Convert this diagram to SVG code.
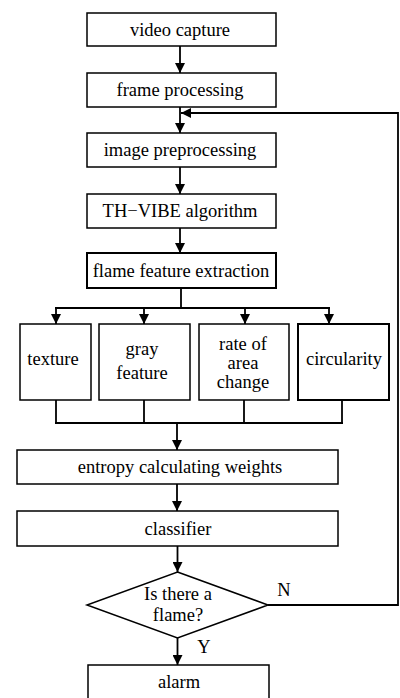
<svg xmlns="http://www.w3.org/2000/svg" width="400" height="698" viewBox="0 0 400 698">
<defs>
<marker id="ah" viewBox="0 0 10 10" refX="10" refY="5" markerWidth="10" markerHeight="10" markerUnits="userSpaceOnUse" orient="auto">
<path d="M0,0 L10,5 L0,10 Z" fill="#000"/>
</marker>
<style>
.box{fill:#fff;stroke:#000;stroke-width:1.5}
.thick{stroke-width:2}
.t{font-family:"Liberation Serif","Times New Roman",serif;font-size:18.5px;fill:#000;text-anchor:middle}
.c{fill:none;stroke:#000;stroke-width:1.8}
.a{fill:none;stroke:#000;stroke-width:1.8;marker-end:url(#ah)}
</style>
</defs>
<rect width="400" height="698" fill="#fff"/>
<g id="connectors">
<line class="a" x1="180" y1="46" x2="180" y2="73"/>
<line class="a" x1="180" y1="107" x2="180" y2="133"/>
<line class="a" x1="180" y1="167" x2="180" y2="194"/>
<line class="a" x1="180" y1="228" x2="180" y2="253"/>
<polyline class="c" points="181,288 181,308"/>
<line class="c" x1="55" y1="308" x2="330" y2="308"/>
<line class="a" x1="56" y1="308" x2="56" y2="324"/>
<line class="a" x1="144" y1="308" x2="144" y2="324"/>
<line class="a" x1="245" y1="308" x2="245" y2="324"/>
<line class="a" x1="329" y1="308" x2="329" y2="324"/>
<line class="c" x1="56" y1="400" x2="56" y2="423"/>
<line class="c" x1="144" y1="400" x2="144" y2="423"/>
<line class="c" x1="244" y1="400" x2="244" y2="423"/>
<line class="c" x1="342" y1="400" x2="342" y2="423"/>
<line class="c" x1="55" y1="423" x2="343" y2="423"/>
<line class="a" x1="177" y1="423" x2="177" y2="450"/>
<line class="a" x1="177" y1="484" x2="177" y2="511"/>
<line class="a" x1="177.5" y1="546" x2="177.5" y2="572"/>
<line class="a" x1="177.5" y1="638" x2="177.5" y2="665"/>
<polyline class="a" points="268,605 398,605 398,113 181,113"/>
<text class="t" x="284" y="596">N</text>
<text class="t" x="204" y="653">Y</text>
</g>
<g id="n1"><rect class="box" x="87" y="13" width="189" height="33"/><text class="t" x="180" y="35.5">video capture</text></g>
<g id="n2"><rect class="box" x="87" y="73" width="189" height="34"/><text class="t" x="180" y="95.5">frame processing</text></g>
<g id="n3"><rect class="box" x="87" y="133" width="189" height="34"/><text class="t" x="180" y="155.5">image preprocessing</text></g>
<g id="n4"><rect class="box" x="87" y="194" width="189" height="34"/><text class="t" x="180" y="217">TH−VIBE algorithm</text></g>
<g id="n5"><rect class="box thick" x="87" y="253" width="189" height="35"/><text class="t" x="181" y="276.5">flame feature extraction</text></g>
<g id="n6"><rect class="box" x="20" y="324" width="71" height="76"/><text class="t" x="53" y="365">texture</text></g>
<g id="n7"><rect class="box" x="99" y="324" width="91" height="76"/><text class="t" x="142"><tspan x="142" y="355">gray</tspan><tspan x="142" y="379">feature</tspan></text></g>
<g id="n8"><rect class="box" x="199" y="324" width="90" height="76"/><text class="t" x="243"><tspan x="243" y="350">rate of</tspan><tspan x="243" y="369">area</tspan><tspan x="243" y="388">change</tspan></text></g>
<g id="n9"><rect class="box thick" x="298" y="324" width="91" height="76"/><text class="t" x="344" y="365">circularity</text></g>
<g id="n10"><rect class="box" x="17" y="450" width="321" height="34"/><text class="t" x="180" y="473">entropy calculating weights</text></g>
<g id="n11"><rect class="box" x="17" y="511" width="321" height="35"/><text class="t" x="178" y="535">classifier</text></g>
<g id="n12"><polygon class="box" points="177.5,572 268,605 177.5,638 87,605"/><text class="t" x="178"><tspan x="178" y="600">Is there a</tspan><tspan x="178" y="621">flame?</tspan></text></g>
<g id="n13"><rect class="box" x="88" y="665" width="181" height="40"/><text class="t" x="179" y="688">alarm</text></g>
</svg>
